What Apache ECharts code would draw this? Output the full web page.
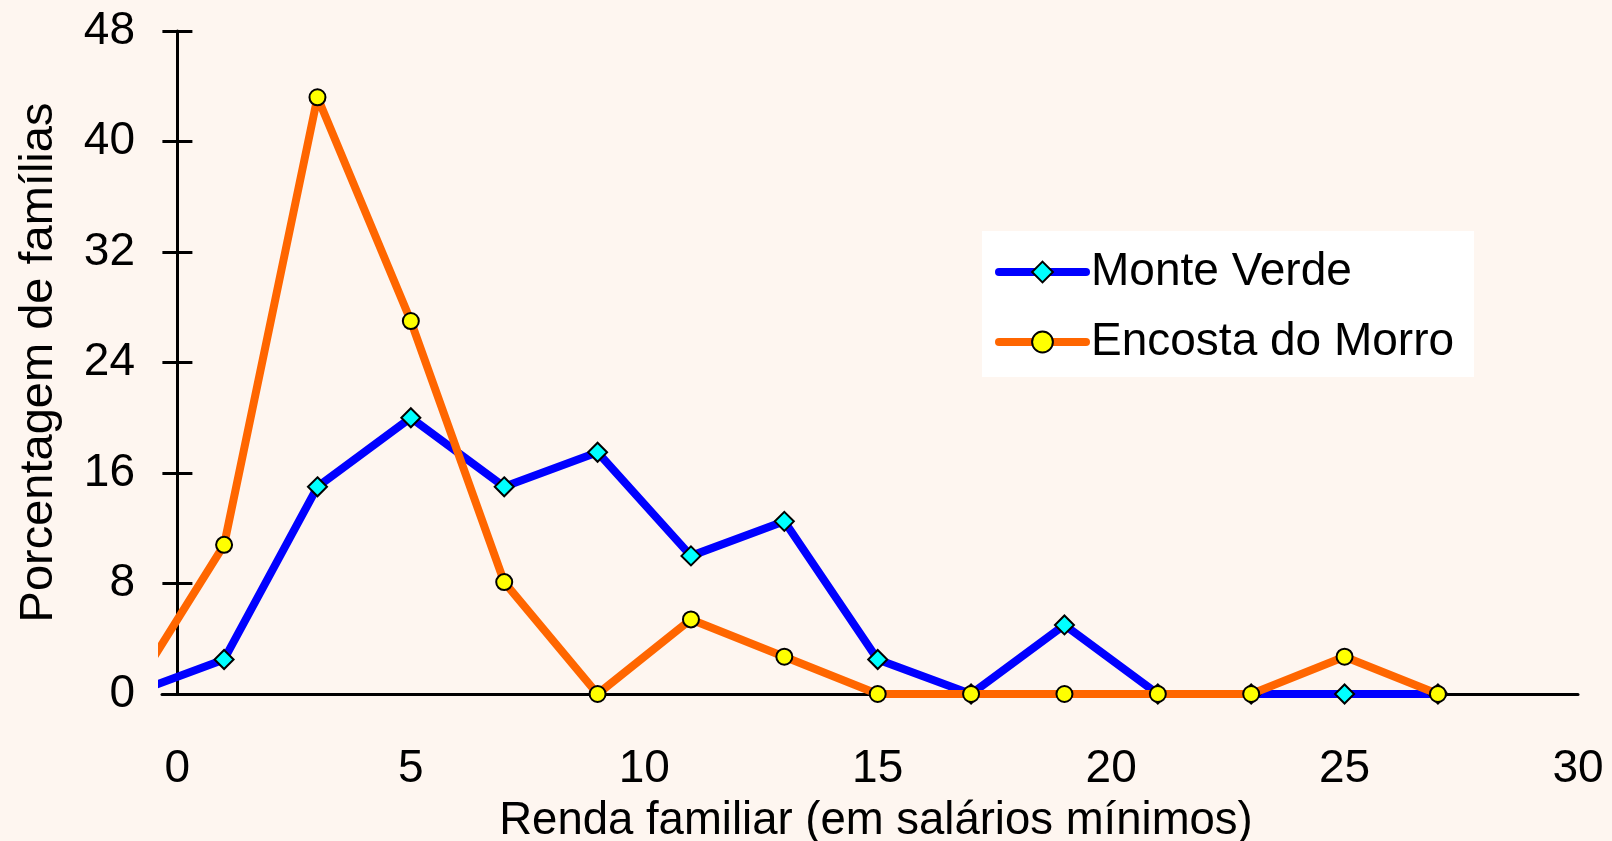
<!DOCTYPE html>
<html>
<head>
<meta charset="utf-8">
<script src="https://cdn.jsdelivr.net/npm/echarts@6/dist/echarts.min.js"></script>
<style>
html,body{margin:0;padding:0;background:#FEF6F0;}
#chart{width:1612px;height:841px;}
</style>
</head>
<body>
<div id="chart"></div>
<script>
// Class midpoints (salários mínimos)
const rendaX = [-1, 1, 3, 5, 7, 9, 11, 13, 15, 17, 19, 21, 23, 25, 27];
// Percentage of families
const monteVerde = [0, 2.5, 15, 20, 15, 17.5, 10, 12.5, 2.5, 0, 5, 0, 0, 0, 0];
const encostaMorro = [0, 10.8, 43.2, 27.0, 8.1, 0, 5.4, 2.7, 0, 0, 0, 0, 0, 2.7, 0];
const xTickLabels = [0, 5, 10, 15, 20, 25, 30];
const yTicks = [0, 8, 16, 24, 32, 40, 48];
const seriesNames = ['Monte Verde', 'Encosta do Morro'];
const xTitle = 'Renda familiar (em salários mínimos)';
const yTitle = 'Porcentagem de famílias';

const FONT = 'Liberation Sans, Arial, sans-serif';
const pairs = (ys) => rendaX.map((x, i) => [x, ys[i]]);

const chart = echarts.init(document.getElementById('chart'));
chart.setOption({
  backgroundColor: '#FEF6F0',
  animation: false,
  textStyle: { fontFamily: FONT },
  grid: { left: 162, right: 34, top: 31, bottom: 147, containLabel: false, outerBoundsMode: 'none' },
  legend: {
    left: 982, top: 231,
    orient: 'vertical',
    backgroundColor: '#ffffff',
    padding: [15, 20, 9, 13],
    itemWidth: 87, itemHeight: 26, itemGap: 18,
    lineStyle: { width: 8, cap: 'round' },
    textStyle: { fontSize: 46, color: '#000', fontFamily: FONT, lineHeight: 52, padding: [0, 0, 0, 0] },
    data: seriesNames
  },
  xAxis: {
    type: 'value',
    min: -0.33, max: 30,
    axisLine: { onZero: true, lineStyle: { color: '#000', width: 3 } },
    axisTick: { show: false },
    splitLine: { show: false },
    axisLabel: { customValues: xTickLabels, fontSize: 46, color: '#000', margin: 52, fontFamily: FONT },
    name: xTitle, nameLocation: 'middle', nameGap: 104,
    nameTextStyle: { fontSize: 45.5, color: '#000', fontFamily: FONT, padding: [0, 0, 0, 12] }
  },
  yAxis: [{
    type: 'value',
    min: 0, max: 48, interval: 8,
    position: 'left',
    axisLine: { onZero: true, lineStyle: { color: '#000', width: 3 } },
    axisTick: { show: true, inside: false, length: 15, lineStyle: { color: '#000', width: 3 } },
    splitLine: { show: false },
    axisLabel: { customValues: yTicks, fontSize: 46, color: '#000', margin: 27, fontFamily: FONT },
    name: yTitle, nameLocation: 'middle', nameGap: 99,
    nameTextStyle: { fontSize: 47, color: '#000', fontFamily: FONT }
  }, {
    type: 'value',
    min: 0, max: 48, interval: 8,
    position: 'left',
    offset: -15.4,
    axisLine: { show: false, onZero: false },
    axisTick: { show: true, inside: true, length: 15, lineStyle: { color: '#000', width: 3 } },
    splitLine: { show: false },
    axisLabel: { show: false }
  }],
  series: [{
    name: seriesNames[0],
    type: 'line',
    yAxisIndex: 0,
    data: pairs(monteVerde),
    symbol: 'diamond', symbolSize: 19,
    lineStyle: { color: '#0000FF', width: 8 },
    itemStyle: { color: '#00FFFF', borderColor: '#000', borderWidth: 2 },
    z: 2
  }, {
    name: seriesNames[1],
    type: 'line',
    yAxisIndex: 0,
    data: pairs(encostaMorro),
    symbol: 'circle', symbolSize: 16,
    lineStyle: { color: '#FF6600', width: 8 },
    itemStyle: { color: '#FFFF00', borderColor: '#000', borderWidth: 2 },
    z: 3
  }]
});
</script>
</body>
</html>
